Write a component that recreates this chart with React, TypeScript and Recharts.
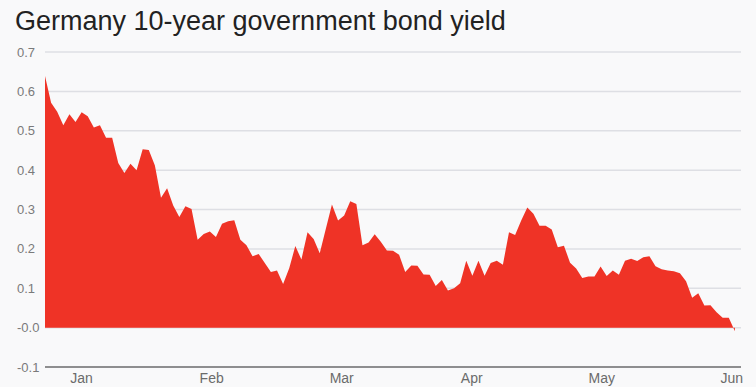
import React from 'react';
import { AreaChart, Area, XAxis, YAxis, CartesianGrid } from 'recharts';

// Daily yield readings (%), early January to early June
const yields = [
  0.639, 0.571, 0.548, 0.514, 0.542, 0.522, 0.547, 0.537, 0.508, 0.514,
  0.482, 0.482, 0.418, 0.393, 0.416, 0.400, 0.453, 0.451, 0.412, 0.330,
  0.354, 0.310, 0.281, 0.308, 0.301, 0.223, 0.238, 0.244, 0.230, 0.264,
  0.270, 0.273, 0.223, 0.209, 0.181, 0.187, 0.164, 0.141, 0.145, 0.111,
  0.151, 0.207, 0.173, 0.242, 0.225, 0.189, 0.251, 0.313, 0.272, 0.285,
  0.321, 0.314, 0.209, 0.216, 0.237, 0.218, 0.196, 0.195, 0.185, 0.141,
  0.158, 0.157, 0.135, 0.134, 0.106, 0.121, 0.094, 0.100, 0.113, 0.170,
  0.132, 0.170, 0.132, 0.164, 0.170, 0.160, 0.242, 0.235, 0.272, 0.305,
  0.289, 0.259, 0.259, 0.249, 0.204, 0.208, 0.165, 0.150, 0.126, 0.130,
  0.130, 0.155, 0.131, 0.145, 0.134, 0.170, 0.175, 0.169, 0.179, 0.181,
  0.156, 0.148, 0.145, 0.143, 0.138, 0.118, 0.076, 0.087, 0.056, 0.057,
  0.039, 0.025, 0.025, -0.009,
];

const monthLabels = ['Jan', 'Feb', 'Mar', 'Apr', 'May', 'Jun'];
const monthTicks = [6, 27.3, 48.6, 69.9, 91.2, 112.5];

const yTicks = [-0.1, 0, 0.1, 0.2, 0.3, 0.4, 0.5, 0.6, 0.7];
const yTickLabels = ['-0.1', '-0.0', '0.1', '0.2', '0.3', '0.4', '0.5', '0.6', '0.7'];

const data = yields.map((v, i) => ({ i, v }));

const YTick = ({ y, payload }: any) => {
  const idx = yTicks.indexOf(payload.value);
  return (
    <text
      x={17}
      y={y}
      dy="0.35em"
      textAnchor="start"
      fill="#7a7a7a"
      fontSize={13}
      fontFamily="'Liberation Sans', Arial, sans-serif"
    >
      {idx >= 0 ? yTickLabels[idx] : payload.value}
    </text>
  );
};

const MonthTick = ({ x, y, payload }: any) => {
  const idx = monthTicks.indexOf(payload.value);
  return (
    <text
      x={x}
      y={y + 16}
      textAnchor="middle"
      fill="#6b6b6b"
      fontSize={14}
      fontFamily="'Liberation Sans', Arial, sans-serif"
    >
      {idx >= 0 ? monthLabels[idx] : ''}
    </text>
  );
};

const App = () => {
  return (
    <div
      style={{
        position: 'absolute',
        left: 0,
        top: 0,
        width: 756,
        height: 387,
        background: '#f9f9fa',
        overflow: 'hidden',
      }}
    >
      <svg width={756} height={40} style={{ position: 'absolute', left: 0, top: 0 }}>
        <text
          x={15}
          y={29.5}
          fill="#222"
          fontSize={27}
          fontFamily="'Liberation Sans', Arial, sans-serif"
        >
          Germany 10-year government bond yield
        </text>
      </svg>
      <div style={{ position: 'absolute', left: 0, top: 0 }}>
        <AreaChart
          width={756}
          height={387}
          data={data}
          margin={{ top: 52, right: 15, bottom: 0, left: 0 }}
        >
          <CartesianGrid vertical={false} stroke="#dedfe4" strokeWidth={1.5} />
          <XAxis
            dataKey="i"
            type="number"
            domain={[0, 114]}
            ticks={monthTicks}
            interval={0}
            height={20}
            tickLine={false}
            tickSize={0}
            tickMargin={0}
            axisLine={{ stroke: '#707070', strokeWidth: 1.5 }}
            tick={<MonthTick />}
          />
          <YAxis
            type="number"
            domain={[-0.1, 0.7]}
            ticks={yTicks}
            interval={0}
            width={45}
            axisLine={false}
            tickLine={false}
            tick={<YTick />}
          />
          <Area
            type="linear"
            dataKey="v"
            stroke="none"
            fill="#ef3326"
            fillOpacity={1}
            baseValue={0}
            dot={false}
            activeDot={false}
            isAnimationActive={false}
          />
        </AreaChart>
      </div>
    </div>
  );
};

export default App;
